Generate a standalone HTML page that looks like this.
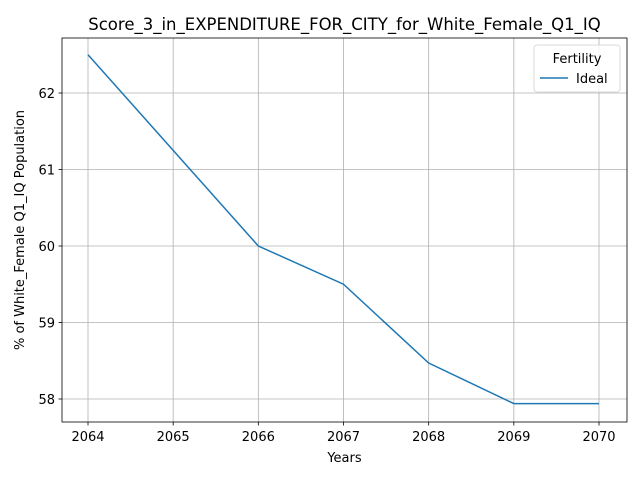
<!DOCTYPE html>
<html><head><meta charset="utf-8"><style>
body{margin:0;background:#fff;font-family:"Liberation Sans","DejaVu Sans",sans-serif}
svg text{font-family:"DejaVu Sans","Liberation Sans",sans-serif}
</style></head><body>
<svg id="c" width="640" height="480"></svg>
<script>
const years=[2064,2065,2066,2067,2068,2069,2070];
const values=[62.5,61.25,60.0,59.5,58.47,57.94,57.94];
const yTicks=[58,59,60,61,62];
const svg=document.getElementById('c');
const NS='http://www.w3.org/2000/svg';
const L=62,R=627,T=38,B=422;
const x=v=>88+(v-2064)*(599-88)/6;
const y=v=>399-(v-58)*(399-93)/4;
function mk(t,a,p){const e=document.createElementNS(NS,t);for(const k in a)e.setAttribute(k,a[k]);(p||svg).appendChild(e);return e;}
const grid=mk('g',{});


years.forEach(v=>{mk('line',{x1:x(v),x2:x(v),y1:T,y2:B,stroke:'#b0b0b0','stroke-width':0.8},grid);
const t=mk('text',{x:x(v),y:B+19,'font-size':13,'text-anchor':'middle'});t.textContent=v;


mk('line',{x1:x(v),x2:x(v),y1:B,y2:B+3.5,stroke:'#000','stroke-width':0.8});});
yTicks.forEach(v=>{mk('line',{x1:L,x2:R,y1:y(v),y2:y(v),stroke:'#b0b0b0','stroke-width':0.8},grid);
const t=mk('text',{x:L-7,y:y(v)+5,'font-size':13,'text-anchor':'end'});t.textContent=v;


mk('line',{x1:L-3.5,x2:L,y1:y(v),y2:y(v),stroke:'#000','stroke-width':0.8});});
const line=mk('polyline',{points:years.map((v,i)=>x(v)+','+y(values[i])).join(' '),fill:'none',stroke:'#1f77b4','stroke-width':1.5});


const fr=mk('rect',{x:L,y:T,width:R-L,height:B-T,fill:'none',stroke:'#000','stroke-width':0.8});


const ti=mk('text',{x:(L+R)/2,y:T-8,'font-size':16.5,'text-anchor':'middle'});ti.textContent='Score_3_in_EXPENDITURE_FOR_CITY_for_White_Female_Q1_IQ';


const xl=mk('text',{x:(L+R)/2,y:462,'font-size':13,'text-anchor':'middle'});xl.textContent='Years';


const yl=mk('text',{x:0,y:0,'font-size':13,'text-anchor':'middle',transform:`translate(24,${(T+B)/2}) rotate(-90)`});yl.textContent='% of White_Female Q1_IQ Population';


const lg=mk('g',{});


mk('rect',{x:534,y:45,width:86,height:47,rx:3,fill:'#fff','fill-opacity':0.8,stroke:'#d0d0d0','stroke-width':0.8},lg);
const lt=mk('text',{x:577,y:63,'font-size':13,'text-anchor':'middle'},lg);lt.textContent='Fertility';
mk('line',{x1:540,x2:568,y1:78,y2:78,stroke:'#1f77b4','stroke-width':1.5},lg);
const le=mk('text',{x:576,y:83,'font-size':13},lg);le.textContent='Ideal';


</script>
</body></html>
